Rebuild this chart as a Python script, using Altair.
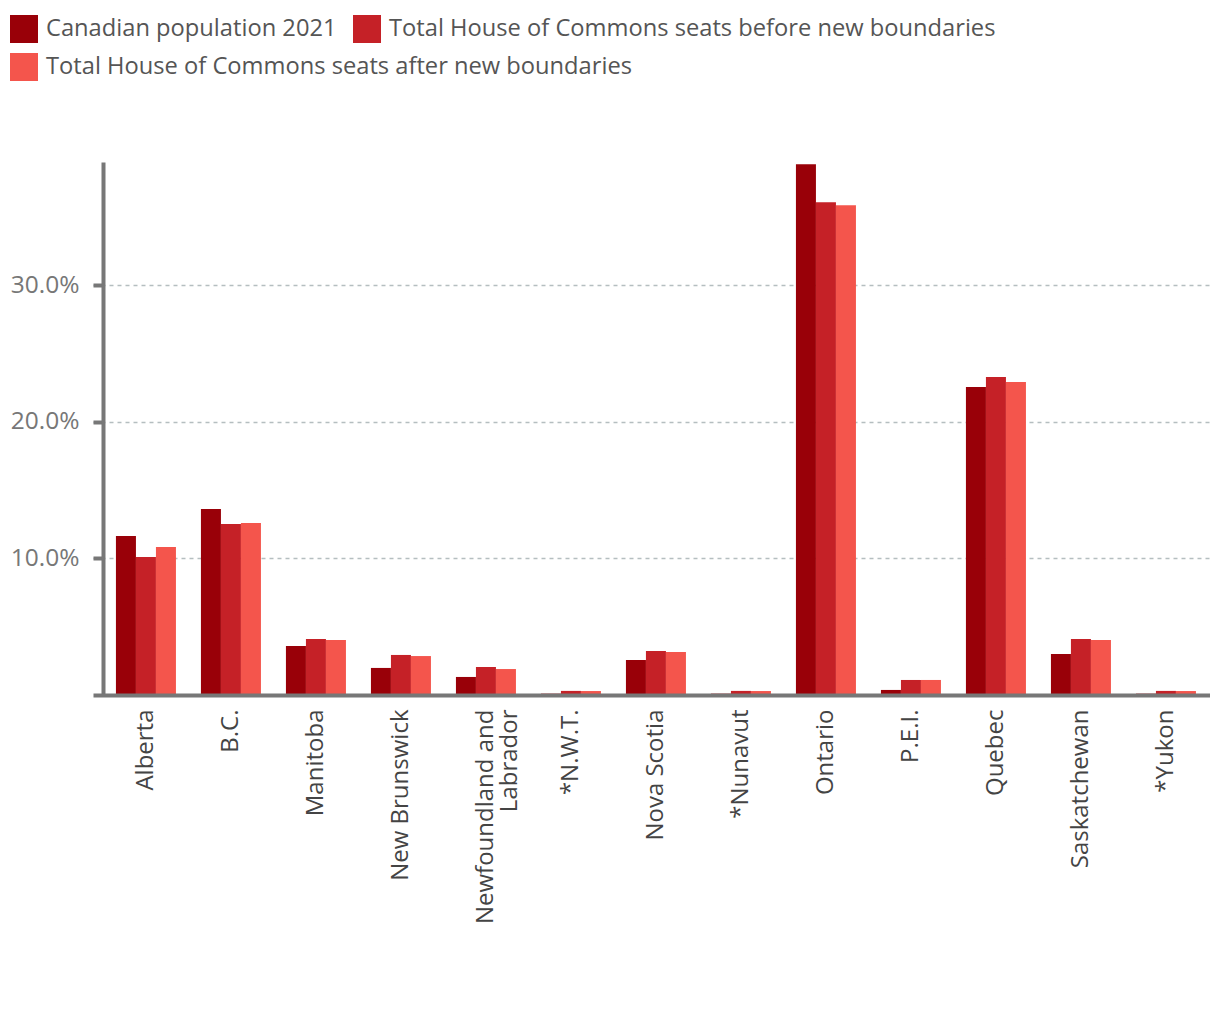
import altair as alt
import pandas as pd

provinces = ["Alberta", "B.C.", "Manitoba", "New Brunswick", "Newfoundland and Labrador",
             "*N.W.T.", "Nova Scotia", "*Nunavut", "Ontario", "P.E.I.", "Quebec",
             "Saskatchewan", "*Yukon"]
series = ["Canadian population 2021",
          "Total House of Commons seats before new boundaries",
          "Total House of Commons seats after new boundaries"]
population = [11.63, 13.61, 3.58, 1.98, 1.32, 0.10, 2.56, 0.10, 38.84, 0.37, 22.53, 3.00, 0.10]
seats_before = [10.10, 12.51, 4.10, 2.93, 2.05, 0.30, 3.22, 0.30, 36.06, 1.10, 23.26, 4.10, 0.30]
seats_after = [10.83, 12.58, 4.02, 2.85, 1.90, 0.29, 3.15, 0.29, 35.84, 1.10, 22.90, 4.02, 0.29]
colors = ["#990008", "#C52127", "#F4554C"]
y_ticks = [10, 20, 30]

rows = []
for s, vals in zip(series, [population, seats_before, seats_after]):
    for p, v in zip(provinces, vals):
        rows.append({"province": p, "series": s, "value": v})
df = pd.DataFrame(rows)

FONT = "Open Sans"

legend_common = dict(title=None, orient="none", legendX=-83, direction="horizontal",
                     symbolType="square", symbolSize=784, symbolStrokeWidth=0,
                     labelFont=FONT, labelFontSize=23.7, labelColor="#555555",
                     labelLimit=0, columnPadding=16, rowPadding=10, labelOffset=8)

base = alt.Chart(df).encode(
    x=alt.X("province:N", sort=provinces,
            scale=alt.Scale(paddingInner=0.294, paddingOuter=0.2176, align=0.62),
            axis=alt.Axis(title=None, labelAngle=-90, ticks=False, domainColor="#777777",
                          domainWidth=4, labelFont=FONT, labelFontSize=24, labelColor="#444444",
                          labelPadding=14, zindex=1, labelLineHeight=24, labelLimit=0,
                          labelExpr="datum.label == 'Newfoundland and Labrador' ? ['Newfoundland and', 'Labrador'] : datum.label")),
    xOffset=alt.XOffset("series:N", sort=series, scale=alt.Scale(domain=series)),
    y=alt.Y("value:Q", scale=alt.Scale(domain=[0, 39], nice=False),
            axis=alt.Axis(title=None, values=y_ticks, offset=-10, tickSize=10, tickWidth=4,
                          tickColor="#777777", domainColor="#777777", domainWidth=4,
                          labelColor="#777777", labelFont=FONT, labelFontSize=24.5, labelPadding=14,
                          labelExpr="format(datum.value, '.1f') + '%'",
                          grid=True, gridColor="#b5bec0", gridDash=[4, 4], gridWidth=1.5)),
)

bars_first = base.transform_filter(
    alt.FieldOneOfPredicate(field="series", oneOf=series[:2])
).mark_bar().encode(
    color=alt.Color("series:N", sort=series[:2],
                    scale=alt.Scale(domain=series[:2], range=colors[:2]),
                    legend=alt.Legend(legendY=-147, **legend_common)),
)

bars_last = base.transform_filter(
    alt.FieldEqualPredicate(field="series", equal=series[2])
).mark_bar().encode(
    fill=alt.Fill("series:N",
                  scale=alt.Scale(domain=series[2:], range=colors[2:]),
                  legend=alt.Legend(legendY=-109, **legend_common)),
)

chart = alt.layer(bars_first, bars_last).properties(
    width=1117, height=533,
    background="white",
    autosize=alt.AutoSizeParams(type="none"),
    padding={"left": 85, "top": 154, "right": 0, "bottom": 300},
).configure_view(strokeWidth=0, stroke="transparent")

chart.save("out.html", embed_options={"renderer": "svg", "actions": False})
